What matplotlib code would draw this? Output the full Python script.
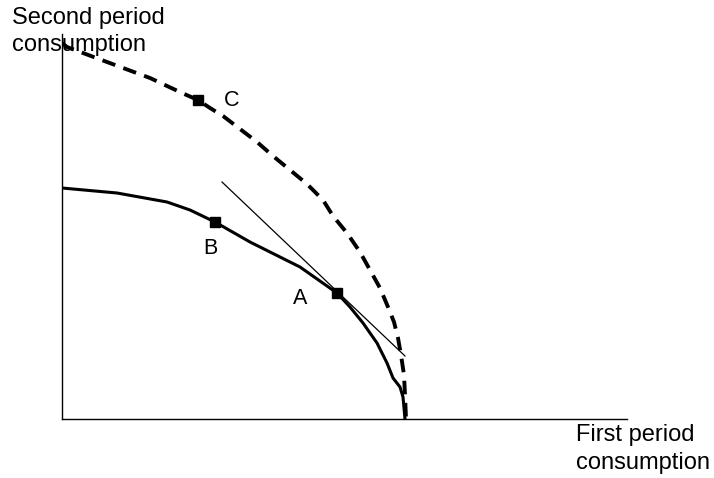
import matplotlib.pyplot as plt

# curve values (units: chart pixels from origin)
solid_x = [0, 55, 105, 128, 153, 188, 238, 275, 288, 301, 315, 325, 331, 338, 341, 343]
solid_y = [231, 226, 217, 209, 197, 177, 152, 126, 112, 96, 76, 56, 41, 32, 22, 0]

dash_x = [0, 5, 45, 88, 120, 136, 148, 161, 178, 195, 211, 228, 245, 261, 271,
          285, 298, 308, 318, 326, 332, 336, 339, 342, 343, 344]
dash_y = [376, 372, 357, 341, 326, 319, 311, 303, 290, 277, 263, 249, 235, 219, 203,
          186, 167, 149, 131, 112, 97, 81, 64, 44, 24, 0]

tangent_x = [160, 343]
tangent_y = [237, 63]

point_names = ['C', 'B', 'A']
point_x = [136, 153, 275]
point_y = [319, 197, 126]
label_x = [170, 148, 238]
label_y = [319, 171, 121]

plt.rcParams['font.family'] = ['Liberation Sans', 'DejaVu Sans']

fig = plt.figure(figsize=(7.14, 4.78), dpi=100)
ax = fig.add_axes([62/714, 59/478, 565/714, 385/478])
ax.set_xlim(0, 565)
ax.set_ylim(0, 385)

ax.plot(solid_x, solid_y, color='black', lw=2.2, solid_joinstyle='round')
ax.plot(dash_x, dash_y, color='black', lw=2.8, dashes=(3.5, 2.2),
        dash_joinstyle='round')
ax.plot(tangent_x, tangent_y, color='black', lw=0.9)
ax.plot(point_x, point_y, 's', color='black', ms=6.5, ls='none')

for name, lx, ly in zip(point_names, label_x, label_y):
    ax.text(lx, ly, name, fontsize=15.5, ha='center', va='center')

for s in ['top', 'right']:
    ax.spines[s].set_visible(False)
for s in ['left', 'bottom']:
    ax.spines[s].set_linewidth(1.0)
ax.set_xticks([])
ax.set_yticks([])

fig.text(12/714, 1 - 7/478, 'Second period\nconsumption', fontsize=17,
         ha='left', va='top', linespacing=1.3)
fig.text(576/714, 1 - 424/478, 'First period\nconsumption', fontsize=17,
         ha='left', va='top', linespacing=1.35)

fig.savefig('out.png', dpi=100)
